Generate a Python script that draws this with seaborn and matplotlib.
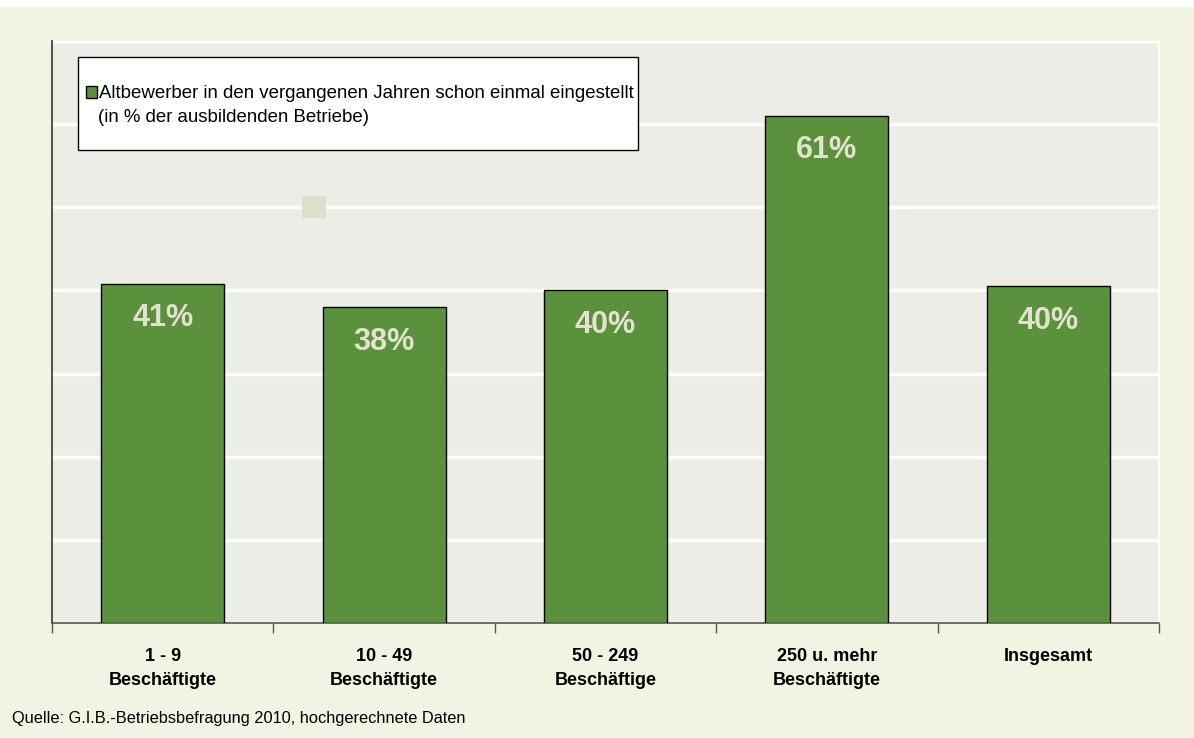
import numpy as np
import matplotlib
matplotlib.use("Agg")
import matplotlib.pyplot as plt
from matplotlib.patches import Rectangle
import seaborn as sns

# Data
categories = ["1 - 9\nBeschäftigte", "10 - 49\nBeschäftigte", "50 - 249\nBeschäftige",
              "250 u. mehr\nBeschäftigte", "Insgesamt"]
values = [40.8, 38.0, 40.0, 61.0, 40.5]
bar_labels = ["41%", "38%", "40%", "61%", "40%"]
legend_label = "Altbewerber in den vergangenen Jahren schon einmal eingestellt"
legend_sub = "(in % der ausbildenden Betriebe)"
source_note = "Quelle: G.I.B.-Betriebsbefragung 2010, hochgerechnete Daten"

bar_color = "#5B913D"
plot_bg = "#EBEDE6"
fig_bg = "#F3F3E4"

sns.set_style("white")
plt.rcParams['font.family'] = ['Liberation Sans', 'DejaVu Sans']
plt.rcParams['text.color'] = 'black'
plt.rcParams['xtick.color'] = 'black'

fig = plt.figure(figsize=(11.94, 7.38), dpi=100, facecolor="white")
# beige frame (white strip on top like the reference)
fig.patches.append(Rectangle((0, 0), 1, 1 - 7 / 738, transform=fig.transFigure,
                             facecolor=fig_bg, edgecolor="none", zorder=-10))

ax = fig.add_axes([52 / 1194, 1 - 623 / 738, (1159 - 52) / 1194, (623 - 41) / 738])
ax.set_facecolor(plot_bg)

sns.barplot(x=categories, y=values, color=bar_color, saturation=1, width=0.556,
            edgecolor="black", linewidth=1.0, ax=ax, zorder=3)

ax.set_ylim(0, 70)
ax.set_xlim(-0.5, len(categories) - 0.5)
ax.set_yticks(np.arange(0, 71, 10))
ax.set_yticklabels([])
ax.tick_params(axis="y", length=0)
ax.grid(axis="y", color="white", linewidth=2.5, zorder=0)
ax.set_axisbelow(True)

# category separators as minor ticks
ax.set_xticks(np.arange(-0.5, len(categories), 1.0), minor=True)
ax.tick_params(axis="x", which="minor", bottom=True, length=7, width=1,
               color="#555555", direction="out")
ax.tick_params(axis="x", which="major", length=0, pad=18, labelcolor="black")
for lbl in ax.get_xticklabels():
    lbl.set_fontsize(13)
    lbl.set_fontweight("bold")
    lbl.set_linespacing(1.55)

ax.spines["top"].set_visible(False)
ax.spines["right"].set_color("white")
ax.spines["right"].set_linewidth(1.5)
ax.spines["left"].set_color("#333333")
ax.spines["left"].set_linewidth(1.2)
ax.spines["bottom"].set_color("#555555")
ax.spines["bottom"].set_linewidth(1.2)
ax.set_xlabel("")
ax.set_ylabel("")

for i, (v, t) in enumerate(zip(values, bar_labels)):
    ax.text(i, v - 4.15, t, ha="center", va="center", fontsize=22,
            fontweight="bold", color="#E2E2CE", zorder=5)

# small gray square artifact
fig.patches.append(Rectangle((302 / 1194, 1 - 218 / 738), 24 / 1194, 22 / 738,
                             transform=fig.transFigure, facecolor="#DCDFCC",
                             edgecolor="none", zorder=5))

# legend box
ax.add_patch(Rectangle((78 / 1194, 1 - 150 / 738), (638 - 78) / 1194, (150 - 57) / 738,
                       transform=fig.transFigure, facecolor="white", edgecolor="black",
                       linewidth=1, zorder=6, clip_on=False))
handle = Rectangle((0, 0), 1, 1, facecolor=bar_color, edgecolor="black", linewidth=1)
leg = ax.legend([handle], [legend_label], loc="center left", frameon=False,
                bbox_to_anchor=(86 / 1194, 1 - 94 / 738), bbox_transform=fig.transFigure,
                prop={"size": 13.4}, handlelength=0.58, handleheight=0.58,
                handletextpad=0.12, borderpad=0, borderaxespad=0)
leg.set_zorder(7)
fig.text(98 / 1194, 1 - 117 / 738, legend_sub, ha="left", va="center",
         fontsize=13.4, zorder=8)

fig.text(12 / 1194, 1 - 719 / 738, source_note, ha="left", va="center", fontsize=11.8)

fig.savefig("out.png", dpi=100, facecolor=fig.get_facecolor())
